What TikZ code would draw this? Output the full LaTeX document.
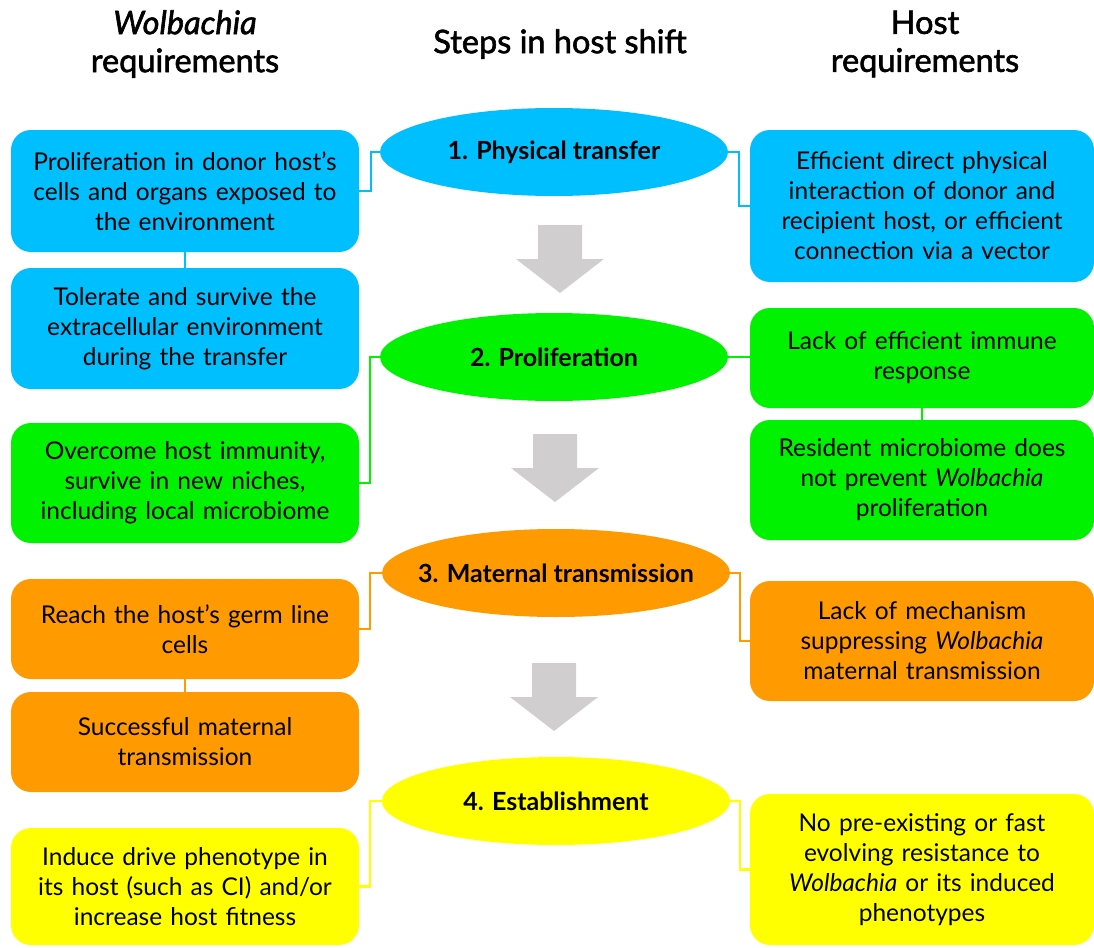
\documentclass[tikz,border=0pt]{standalone}
\usepackage{fontspec}
\setmainfont{Lato}
\newfontfamily\headfont[FakeBold=1.8]{Lato}
\usetikzlibrary{shapes.geometric}

\definecolor{wblue}{HTML}{00BFFF}
\definecolor{wgreen}{HTML}{00F200}
\definecolor{worange}{HTML}{FF9A00}
\definecolor{wyellow}{HTML}{FFFF00}
\definecolor{wgray}{HTML}{D0CECE}

\newcommand{\shiftarrow}[2]{\fill[wgray] (#1-22,#2) -- (#1+22,#2) -- (#1+22,#2+34) -- (#1+44,#2+34) -- (#1,#2+68) -- (#1-44,#2+34) -- (#1-22,#2+34) -- cycle;}

\begin{document}
\begin{tikzpicture}[x=1pt, y=-1pt,
  reqbox/.style = {shape = rectangle, rounded corners = 20pt, minimum width = 348pt, text width = 340pt, align = center, inner sep = 0pt, font = \fontsize{24.5}{30}\selectfont},
  hostbox/.style = {reqbox, minimum width = 344pt},
  stepnode/.style = {shape = ellipse, minimum width = 348pt, minimum height = 88pt, inner xsep = -70pt, inner ysep = 0pt, font = \fontsize{25}{28}\selectfont\bfseries},
  header/.style = {align = center, font = \headfont\fontsize{32.5}{38}\selectfont},
  link/.style = {line width = 2.5pt}]
\useasboundingbox (0,0) rectangle (1094,947);

\node[header] (hwol) at (185,44) {\itshape Wolbachia\\requirements};
\node[header] (hstep) at (560,44) {Steps in host shift};
\node[header] (hhost) at (925,44) {Host\\requirements};

\shiftarrow{560}{225}
\shiftarrow{555}{434}
\shiftarrow{554}{663}

\node[stepnode, fill = wblue] (e1) at (554,152) {1. Physical transfer};
\node[stepnode, fill = wgreen] (e2) at (554,357) {2. Proliferation};
\node[stepnode, fill = worange] (e3) at (556,573) {3. Maternal transmission};
\node[stepnode, fill = wyellow] (e4) at (556,801) {4. Establishment};

\node[reqbox, fill = wblue, minimum height = 122pt] (l1) at (185,191) {Proliferation in donor host’s\\cells and organs exposed to\\the environment};
\node[reqbox, fill = wblue, minimum height = 121pt] (l2) at (185,328.5) {Tolerate and survive the\\extracellular environment\\during the transfer};
\node[reqbox, fill = wgreen, minimum height = 120pt] (l3) at (185,483) {Overcome host immunity,\\survive in new niches,\\including local microbiome};
\node[reqbox, fill = worange, minimum height = 100pt] (l4) at (185,629) {Reach the host’s germ line\\cells};
\node[reqbox, fill = worange, minimum height = 100pt] (l5) at (185,742) {Successful maternal\\transmission};
\node[reqbox, fill = wyellow, minimum height = 117pt] (l6) at (185,886.5) {Induce drive phenotype in\\its host (such as CI) and/or\\increase host fitness};

\node[hostbox, fill = wblue, minimum height = 152pt] (r1) at (922,206) {Efficient direct physical\\interaction of donor and\\recipient host, or efficient\\connection via a vector};
\node[hostbox, fill = wgreen, minimum height = 100pt] (r2) at (922,358) {Lack of efficient immune\\response};
\node[hostbox, fill = wgreen, minimum height = 120pt] (r3) at (922,480) {Resident microbiome does\\not prevent \emph{Wolbachia}\\proliferation};
\node[hostbox, fill = worange, minimum height = 120pt] (r4) at (922,641) {Lack of mechanism\\suppressing \emph{Wolbachia}\\maternal transmission};
\node[hostbox, fill = wyellow, minimum height = 151pt] (r5) at (922,869.5) {No pre-existing or fast\\evolving resistance to\\\emph{Wolbachia} or its induced\\phenotypes};

\draw[link, wblue] (e1.west) -- ++(-9,0) |- (l1.east);
\draw[link, wblue] (e1.east) -- ++(11,0) |- (r1.west);
\draw[link, wblue] (l1.south) -- (l2.north);
\draw[link, wgreen] (e2.west) -- ++(-10,0) |- (l3.east);
\draw[link, wgreen] (e2.east) -- (e2.east -| r2.west);
\draw[link, wgreen] (r2.south) -- (r3.north);
\draw[link, worange] (e3.west) -- ++(-12,0) |- (l4.east);
\draw[link, worange] (e3.east) -- ++(10,0) |- (r4.west);
\draw[link, worange] (l4.south) -- (l5.north);
\draw[link, wyellow] (e4.west) -- ++(-12,0) |- (l6.east);
\draw[link, wyellow] (e4.east) -- ++(10,0) |- (r5.west);
\end{tikzpicture}
\end{document}
